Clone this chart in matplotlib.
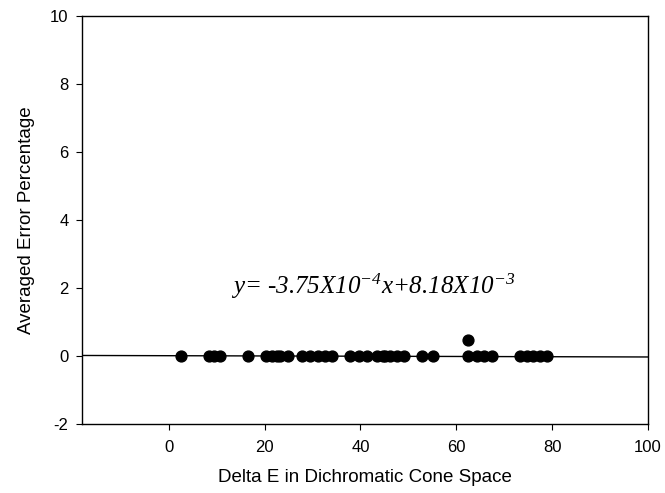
import numpy as np
import matplotlib
matplotlib.use("Agg")
from matplotlib import pyplot as plt

plt.rcParams['font.family'] = ['Liberation Sans', 'DejaVu Sans']
plt.rcParams['axes.unicode_minus'] = False
plt.rcParams['mathtext.fontset'] = 'custom'
plt.rcParams['mathtext.rm'] = 'Liberation Serif:italic'
plt.rcParams['mathtext.it'] = 'Liberation Serif:italic'

# delta E values and averaged error (%) per sample
delta_e = [2.5, 8.5, 9.5, 10.6, 16.6, 20.3, 21.5, 22.5, 23.2, 24.9,
           27.8, 29.5, 31.2, 32.7, 34.1, 37.9, 39.6, 41.3, 43.4, 45.1,
           44.8, 46.2, 47.6, 49.0, 52.8, 55.1, 62.5, 62.5, 64.3, 65.7,
           67.4, 73.2, 74.7, 76.1, 77.5, 78.9]
avg_error = [0.0] * len(delta_e)
avg_error[26] = 0.48

# linear fit y = slope * x + intercept
slope = -3.75e-4
intercept = 8.18e-3

x_ticks = [0, 20, 40, 60, 80, 100]
y_ticks = [-2, 0, 2, 4, 6, 8, 10]

fig = plt.figure(figsize=(6.65, 4.93), dpi=100)
ax = fig.add_axes([0.1233, 0.140, 0.8511, 0.8276])

xlim = (-18.1, 100)
xs = np.array(xlim)
ax.plot(xs, slope * xs + intercept, color='black', lw=1.0, zorder=2)
ax.plot(delta_e, avg_error, 'o', color='black', ms=7.8, zorder=3)

ax.set_xlim(*xlim)
ax.set_ylim(-2, 10)
ax.set_xticks(x_ticks)
ax.set_yticks(y_ticks)
ax.tick_params(direction='out', length=4.3, width=0.8, labelsize=12,
               top=False, right=False)
ax.tick_params(axis='x', pad=7.5)
ax.tick_params(axis='y', pad=5.5)
for sp in ax.spines.values():
    sp.set_linewidth(1.0)

ax.set_xlabel('Delta E in Dichromatic Cone Space', fontsize=13.5, labelpad=10)
ax.set_ylabel('Averaged Error Percentage', fontsize=13.5, labelpad=11)

ax.text(0.515, 0.337, 'y= -3.75X10$^{-4}$x+8.18X10$^{-3}$',
        transform=ax.transAxes, ha='center', va='center',
        fontsize=18, fontstyle='italic', family='Liberation Serif')

fig.savefig('out.png', dpi=100)
